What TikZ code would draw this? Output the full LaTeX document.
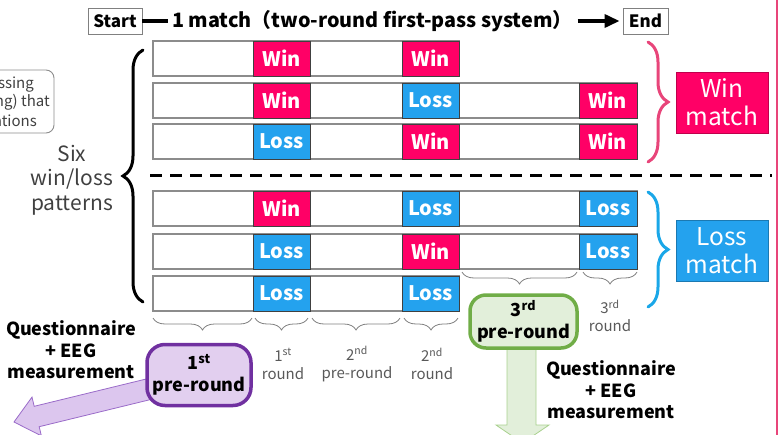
\documentclass[tikz,border=0pt]{standalone}
\usepackage{fontspec}
\setmainfont{Noto Sans CJK JP}
\usetikzlibrary{decorations.pathreplacing,arrows.meta}
\definecolor{winc}{HTML}{FF0066}
\definecolor{lossc}{HTML}{24A2EE}
\definecolor{pinkb}{HTML}{E8457A}
\definecolor{blueb}{HTML}{1AA7E8}
\definecolor{purb}{HTML}{7030A0}
\definecolor{purf}{HTML}{E2CFEF}
\definecolor{purarf}{HTML}{DCC6EE}
\definecolor{purard}{HTML}{9A6BC9}
\definecolor{greenb}{HTML}{70AD47}
\definecolor{greenf}{HTML}{E2EFDA}
\definecolor{greenard}{HTML}{A9D18E}
\definecolor{txtg}{HTML}{404040}
\definecolor{labg}{HTML}{595959}
\begin{document}
\begin{tikzpicture}[x=1pt,y=-1pt,
 rowbox/.style={draw=black!45, line width=1.1pt, minimum height=35pt, inner sep=0pt},
 cell/.style={draw=black!75, line width=0.8pt, minimum width=57pt, minimum height=35pt, inner sep=0pt, text=white, font=\fontsize{20}{22}\selectfont\bfseries},
 win/.style={cell, fill=winc},
 loss/.style={cell, fill=lossc},
 wide/.style={minimum width=58pt},
 smallbrace/.style={draw=black!50, line width=0.8pt, decorate, decoration={brace, amplitude=12pt, mirror}},
 bigbrace/.style={line width=3pt, line cap=round, decorate, decoration={brace, amplitude=20pt}},
 lab/.style={text=labg, align=center, inner sep=0pt, font=\fontsize{15}{18}\selectfont},
 qlab/.style={text=black, align=center, inner sep=0pt, font=\fontsize{18}{21.5}\selectfont\bfseries},
 tbox/.style={draw=black!50, line width=0.9pt, inner sep=0pt, minimum height=26pt, font=\fontsize{17}{20}\selectfont\bfseries},
 matchbox/.style={minimum width=92pt, minimum height=61pt, inner sep=0pt, text=white, align=center, font=\fontsize{24.5}{28}\selectfont},
 prebox/.style={line width=3.5pt, align=center, inner sep=0pt, font=\fontsize{18}{22}\selectfont\bfseries}
]
\path[use as bounding box] (0,0) rectangle (779,434);
\clip (0,0) rectangle (779,434);

% right edge line
\draw[pinkb, line width=2pt] (777,-5) -- (777,440);

% left cut-off box
\draw[black!45, line width=0.9pt, rounded corners=8pt] (-40,70) rectangle (54,133);
\node[anchor=east, text=txtg, inner sep=0pt, font=\fontsize{15}{18}\selectfont] (lb1) at (34,85) {ssing};
\node[anchor=east, text=txtg, inner sep=0pt, font=\fontsize{15}{18}\selectfont] (lb2) at (50,102) {ng) that};
\node[anchor=east, text=txtg, inner sep=0pt, font=\fontsize{15}{18}\selectfont] (lb3) at (37,121) {ations};

% title
\node[tbox, minimum width=54pt] (start) at (115,21) {Start};
\node[tbox, minimum width=45pt] (end) at (645.5,21) {End};
\node[anchor=west, inner sep=0pt, font=\fontsize{19.8}{22}\selectfont\bfseries] (title) at (172,21) {1 match（two-round first-pass system）};
\draw[line width=4pt] (start.east) -- ([xshift=-4pt]title.west);
\draw[line width=3.5pt, -{Triangle[length=15pt,width=13pt]}] ([xshift=5pt]title.east) -- ([xshift=-3pt]end.west);

% rows
\node[rowbox, minimum width=306pt] (r1) at (306,58.5) {};
\node[win] (r1a) at (281.5,58.5) {Win};
\node[win] (r1b) at (430.5,58.5) {Win};

\node[rowbox, minimum width=484pt] (r2) at (395,100.5) {};
\node[win] (r2a) at (281.5,100.5) {Win};
\node[loss] (r2b) at (430.5,100.5) {Loss};
\node[win, wide] (r2c) at (608,100.5) {Win};

\node[rowbox, minimum width=484pt] (r3) at (395,141.5) {};
\node[loss] (r3a) at (281.5,141.5) {Loss};
\node[win] (r3b) at (430.5,141.5) {Win};
\node[win, wide] (r3c) at (608,141.5) {Win};

\node[rowbox, minimum width=484pt] (r4) at (395,208.5) {};
\node[win] (r4a) at (281.5,208.5) {Win};
\node[loss] (r4b) at (430.5,208.5) {Loss};
\node[loss, wide] (r4c) at (608,208.5) {Loss};

\node[rowbox, minimum width=484pt] (r5) at (395,251.5) {};
\node[loss] (r5a) at (281.5,251.5) {Loss};
\node[win] (r5b) at (430.5,251.5) {Win};
\node[loss, wide] (r5c) at (608,251.5) {Loss};

\node[rowbox, minimum width=306pt] (r6) at (306,293.5) {};
\node[loss] (r6a) at (281.5,293.5) {Loss};
\node[loss] (r6b) at (430.5,293.5) {Loss};

% dashed separator
\draw[line width=3pt, dash pattern=on 12pt off 8pt] (150,175) -- (772,175);

% big braces
\draw[bigbrace] (143,302) -- (143,50);
\draw[bigbrace, pinkb] (648,42) -- (648,162);
\draw[bigbrace, blueb] (648,192) -- (648,307);

\node[text=txtg, align=center, inner sep=0pt, font=\fontsize{21}{24.5}\selectfont] (six) at (72,180) {Six\\win/loss\\patterns};

\node[matchbox, fill=winc, draw=winc!75!black] (wm) at (722,102.5) {Win\\match};
\node[matchbox, fill=lossc, draw=lossc!75!black] (lm) at (722,250.5) {Loss\\match};

% small braces
\draw[smallbrace] (153,318) -- (252,318);
\draw[smallbrace] (255,318) -- (308,318);
\draw[smallbrace] (312,318) -- (400,318);
\draw[smallbrace] (404,318) -- (458,318);
\draw[smallbrace] (462,272) -- (577,272);
\draw[smallbrace] (583,272) -- (637,272);

% labels
\node[lab] (l1) at (283,364) {1\textsuperscript{st}\\round};
\node[lab] (l2) at (357,364) {2\textsuperscript{nd}\\pre-round};
\node[lab] (l3) at (432,364) {2\textsuperscript{nd}\\round};
\node[lab] (l4) at (610,316) {3\textsuperscript{rd}\\round};

% arrows
\filldraw[fill=purarf, draw=purard, line width=0.8pt] (155.6,376.7) -- (34.2,406.3) -- (32.0,397.1) -- (14,422) -- (41.4,435.9) -- (39.2,426.7) -- (160.6,397.1) -- cycle;
\filldraw[fill=greenf, draw=greenard, line width=0.8pt] (507,340) -- (507,425) -- (496,425) -- (522.5,443) -- (549,425) -- (536,425) -- (536,340) -- cycle;

% pre-round boxes
\node[prebox, draw=purb, fill=purf, rounded corners=18pt, minimum width=104pt, minimum height=61pt] (p1) at (199,375) {1\textsuperscript{st}\\pre-round};
\node[prebox, draw=greenb, fill=greenf, rounded corners=16pt, minimum width=107pt, minimum height=53pt] (p3) at (523.5,321.5) {3\textsuperscript{rd}\\pre-round};

\node[qlab] (q1) at (71,350) {Questionnaire\\+ EEG\\measurement};
\node[qlab] (q2) at (611,390) {Questionnaire\\+ EEG\\measurement};
\end{tikzpicture}
\end{document}
